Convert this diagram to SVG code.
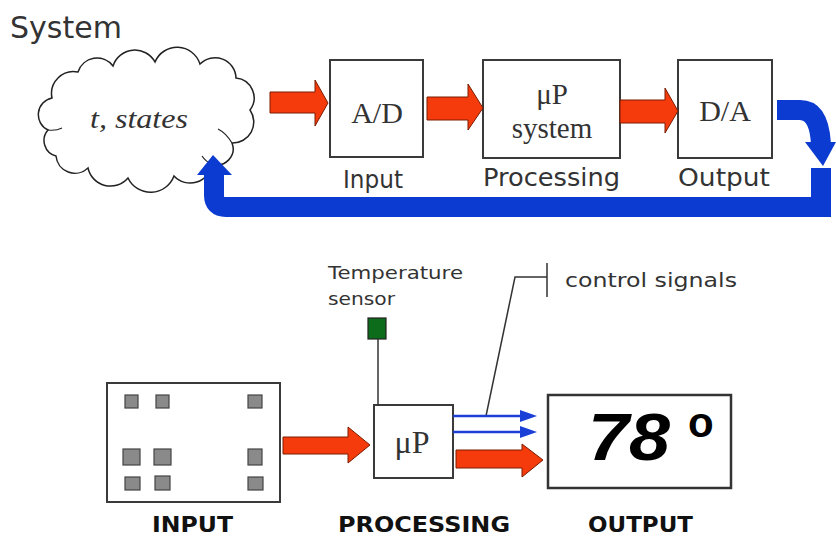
<svg xmlns="http://www.w3.org/2000/svg" width="836" height="536" viewBox="0 0 836 536">
<defs>
<style>
.box{fill:#fff;stroke:#3a3a3a;stroke-width:2}
.red{fill:#f53a0c;stroke:#7a1c00;stroke-width:1}
.blueband{fill:none;stroke:#0b3bd0;stroke-width:20}
.bluefill{fill:#0b3bd0}
.thin{stroke:#1b40d8;stroke-width:2.5;fill:none}
.serif{font-family:"Liberation Serif","Times New Roman",serif;fill:#333}
.sans{font-family:"DejaVu Sans",Verdana,sans-serif;fill:#333}
.bold{font-family:"DejaVu Sans",Verdana,sans-serif;font-weight:bold;fill:#111}
.chip{fill:#8a8a8a;stroke:#444;stroke-width:1.2}
</style>
</defs>
<rect width="836" height="536" fill="#fff"/>
<text x="10" y="38" class="sans" font-size="30">System</text>

<g id="cloud">
<path d="M48,130 A17,17 0 0 1 52,98 A22,22 0 0 1 78,72 A20,20 0 0 1 113,66 A23,23 0 0 1 155,62 A24,24 0 0 1 200,64 A21,21 0 0 1 236,78 A20,20 0 0 1 250,110 A21,21 0 0 1 232,143 A16,16 0 0 1 212,164 A22,22 0 0 1 174,176 A25,25 0 0 1 128,178 A23,23 0 0 1 88,168 A19,19 0 0 1 56,156 A16,16 0 0 1 48,130 Z" fill="#fff" stroke="#222" stroke-width="1.5"/>
<path d="M232,143 q-6,-10 -14,-14 M212,164 q-6,-2 -10,-8 M48,130 q8,1 14,-2" fill="none" stroke="#222" stroke-width="1.2"/>
<text x="90" y="128" class="serif" font-size="28" font-style="italic" fill="#555" textLength="98" lengthAdjust="spacingAndGlyphs">t, states</text>
</g>

<g id="ad">
<rect x="330" y="60" width="93" height="97" class="box"/>
<text x="377" y="123" class="serif" font-size="30" text-anchor="middle">A/D</text>
<text x="343" y="188" class="sans" font-size="24" textLength="60" lengthAdjust="spacingAndGlyphs">Input</text>
</g>

<g id="up-system">
<rect x="483" y="60" width="137" height="98" class="box"/>
<text x="552" y="104" class="serif" font-size="29" text-anchor="middle">μP</text>
<text x="552" y="138" class="serif" font-size="29" text-anchor="middle">system</text>
<text x="483" y="186" class="sans" font-size="24" textLength="137" lengthAdjust="spacingAndGlyphs">Processing</text>
</g>

<g id="da">
<rect x="678" y="60" width="94" height="98" class="box"/>
<text x="725" y="121" class="serif" font-size="30" text-anchor="middle">D/A</text>
<text x="678" y="186" class="sans" font-size="24" textLength="92" lengthAdjust="spacingAndGlyphs">Output</text>
</g>

<g id="input-panel">
<rect x="107" y="383" width="173" height="119" class="box"/>
<rect x="125" y="395" width="13" height="13" class="chip"/>
<rect x="156" y="395" width="13" height="13" class="chip"/>
<rect x="248" y="395" width="14" height="13" class="chip"/>
<rect x="123" y="449" width="17" height="16" class="chip"/>
<rect x="154" y="449" width="17" height="16" class="chip"/>
<rect x="248" y="449" width="14" height="16" class="chip"/>
<rect x="125" y="477" width="15" height="13" class="chip"/>
<rect x="155" y="476" width="15" height="14" class="chip"/>
<rect x="248" y="477" width="15" height="13" class="chip"/>
<text x="152" y="532" class="bold" font-size="22" textLength="81" lengthAdjust="spacingAndGlyphs">INPUT</text>
</g>

<g id="sensor">
<text x="328" y="279" class="sans" font-size="17" textLength="135" lengthAdjust="spacingAndGlyphs">Temperature</text>
<text x="328" y="305" class="sans" font-size="17" textLength="67" lengthAdjust="spacingAndGlyphs">sensor</text>
<rect x="368" y="318" width="18" height="21" fill="#0d6b1c" stroke="#222" stroke-width="1.2"/>
</g>

<g id="up">
<rect x="374" y="405" width="79" height="73" class="box"/>
<text x="412" y="453" class="serif" font-size="32" text-anchor="middle">μP</text>
<text x="338" y="532" class="bold" font-size="22" textLength="172" lengthAdjust="spacingAndGlyphs">PROCESSING</text>
</g>

<g id="output-display">
<rect x="548" y="395" width="183" height="93" fill="#fff" stroke="#333" stroke-width="2.5"/>
<text x="588" y="460" font-family="'Liberation Sans',Arial,sans-serif" font-weight="bold" font-style="italic" font-size="66" fill="#000"><tspan textLength="82" lengthAdjust="spacingAndGlyphs">78</tspan> <tspan x="688" y="437" font-size="42" font-style="normal">o</tspan></text>
<text x="588" y="532" class="bold" font-size="22" textLength="105" lengthAdjust="spacingAndGlyphs">OUTPUT</text>
</g>

<g id="control-label">
<path d="M486,416 L515,277 L547,277 M547,263 L547,297" fill="none" stroke="#333" stroke-width="1.5"/>
<text x="565" y="287" class="sans" font-size="20" fill="#555" textLength="172" lengthAdjust="spacingAndGlyphs">control signals</text>
</g>

<g id="connectors">
<polygon class="red" points="270,92 315,92 315,80 328,103 315,126 315,113 270,113"/>
<polygon class="red" points="427,97 468,97 468,84 483,108 468,130 468,120 427,120"/>
<polygon class="red" points="620,100 665,100 665,88 678,111 665,133 665,123 620,123"/>
<path class="blueband" d="M777,110 L800,110 Q819,110 821,144"/>
<polygon class="bluefill" points="805,142 836,142 823,166"/>
<path class="blueband" d="M821,168 L821,207 L226,207 Q214,207 214,195 L214,172"/>
<polygon class="bluefill" points="197,175 232,175 213,155"/>
<line x1="378" y1="339" x2="378" y2="405" stroke="#333" stroke-width="1.5"/>
<polygon class="red" points="283,437 348,437 348,427 370,445 348,463 348,454 283,454"/>
<line class="thin" x1="453" y1="416" x2="524" y2="416"/>
<line class="thin" x1="453" y1="432" x2="524" y2="432"/>
<polygon fill="#1b40d8" points="520,410 537,416 520,422"/>
<polygon fill="#1b40d8" points="520,426 537,432 520,438"/>
<polygon class="red" points="456,450 522,450 522,444 543,460 522,477 522,468 456,468"/>
</g>
</svg>
